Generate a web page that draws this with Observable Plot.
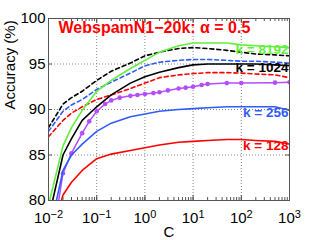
<!DOCTYPE html>
<html><head><meta charset="utf-8">
<script src="https://cdn.jsdelivr.net/npm/d3@7"></script>
<script src="https://cdn.jsdelivr.net/npm/@observablehq/plot@0.6"></script>
<style>body{margin:0;background:#fff}</style>
</head><body><div id="chart"></div>
<script>
// C values for the plain curves
const C = [0.01, 0.02, 0.03, 0.05, 0.1, 0.2, 0.5, 1, 2, 5, 10, 20, 50, 100, 200, 500, 1000];
// solid curves
const solid128  = [75.0, 80.6, 82.0, 83.3, 84.6, 85.1, 85.5, 85.8, 86.1, 86.4, 86.5, 86.6, 86.7, 86.7, 86.6, 86.5, 86.2];
const solid256  = [76.0, 83.3, 85.0, 86.2, 87.6, 88.5, 89.2, 89.5, 89.8, 90.0, 90.1, 90.2, 90.3, 90.3, 90.3, 90.3, 89.9];
const solid1024 = [78.0, 85.0, 86.8, 88.8, 90.3, 91.6, 92.9, 93.6, 94.1, 94.6, 94.9, 95.0, 95.0, 95.0, 95.0, 94.9, 94.8];
const solid8192 = [79.5, 86.0, 88.0, 89.9, 92.0, 93.2, 94.5, 95.4, 96.3, 97.0, 97.3, 97.3, 97.3, 97.1, 97.0, 96.9, 96.8];
// dashed curves
const dashed128  = [87.0, 88.8, 89.6, 90.3, 91.1, 91.6, 92.3, 92.9, 93.5, 93.8, 93.95, 94.05, 94.05, 94.0, 93.9, 93.8, 93.5];
const dashed256  = [87.6, 89.8, 90.5, 91.1, 92.2, 93.0, 94.0, 94.8, 95.2, 95.4, 95.5, 95.5, 95.4, 95.3, 95.3, 95.2, 95.1];
const dashed1024 = [88.0, 90.6, 91.3, 92.0, 93.2, 94.2, 95.1, 95.9, 96.3, 96.7, 96.8, 96.7, 96.5, 96.3, 96.1, 96.0, 95.9];
// purple curve with markers
const Cp = [0.01, 0.015, 0.02, 0.03, 0.05, 0.07, 0.1, 0.15, 0.2, 0.3, 0.5, 0.7, 1, 1.5, 2, 3, 5, 7, 10, 15, 20, 50, 100, 500, 1000];
const purple = [74.0, 78.8, 83.0, 85.2, 87.4, 88.7, 89.8, 90.6, 91.0, 91.3, 91.5, 91.6, 91.7, 91.8, 91.9, 92.1, 92.3, 92.4, 92.5, 92.7, 92.8, 92.9, 92.9, 92.95, 93.0];

const xTicks = [0.01, 0.1, 1, 10, 100, 1000];
const yTicks = [80, 85, 90, 95, 100];
const title = "WebspamN1\u221220k: \u03b1 = 0.5";
const xLabel = "C";
const yLabel = "Accuracy (%)";

const series = [
  {label: "k = 128",  values: dashed128,  color: "#ff0000", dash: "4,3", showLabel: false},
  {label: "k = 256",  values: dashed256,  color: "#2f5bff", dash: "4,3", showLabel: false},
  {label: "k = 1024", values: dashed1024, color: "#000000", dash: "4,3", showLabel: false},
  {label: "k = 128",  values: solid128,   color: "#ff0000", dash: null, showLabel: true},
  {label: "k = 256",  values: solid256,   color: "#2f5bff", dash: null, showLabel: true},
  {label: "k = 1024", values: solid1024,  color: "#000000", dash: null, showLabel: true},
  {label: "k = 8192", values: solid8192,  color: "#5ff03a", dash: null, showLabel: true}
];

const W = 319, H = 240, mL = 48, mR = 30, mT = 18, mB = 40;
const innerW = W - mL - mR, innerH = H - mT - mB;
const minorX = d3.scaleLog().domain([0.01, 1000]).ticks();

const marks = [
  Plot.gridX({ticks: xTicks.slice(1, -1), stroke: "#888", strokeOpacity: 1, strokeDasharray: "1,2"}),
  Plot.gridY({ticks: yTicks.slice(1, -1), stroke: "#888", strokeOpacity: 1, strokeDasharray: "1,2"}),
];
const purpleRows = Cp.map((c, i) => ({C: c, acc: purple[i]}));
marks.push(Plot.line(purpleRows, {x: "C", y: "acc", stroke: "#b34dff", strokeWidth: 1.5, clip: true}));
marks.push(Plot.dot(purpleRows, {x: "C", y: "acc", fill: "#b34dff", r: 2.3, clip: true}));
for (const s of series) {
  const rows = C.map((c, i) => ({C: c, acc: s.values[i]}));
  marks.push(Plot.line(rows, {x: "C", y: "acc", stroke: s.color, strokeWidth: 1.6, strokeDasharray: s.dash, clip: true}));
  if (s.showLabel) {
    marks.push(Plot.text(rows, Plot.selectLast({x: "C", y: "acc", text: () => s.label, fill: s.color,
      textAnchor: "end", dx: -1, dy: 2, fontWeight: "bold", fontSize: 13.5})));
  }
}
marks.push(Plot.text([title], {frameAnchor: "top-left", dx: 10, dy: 3, lineAnchor: "top", textAnchor: "start",
  fill: "#ff0000", fontWeight: "bold", fontSize: 16}));
marks.push(Plot.frame({stroke: "#555"}));
// inward ticks
marks.push(Plot.tickX(minorX, {x: d => d, insetTop: innerH - 3, stroke: "#555"}));
marks.push(Plot.tickX(minorX, {x: d => d, insetBottom: innerH - 3, stroke: "#555"}));
marks.push(Plot.tickX(xTicks, {x: d => d, insetTop: innerH - 5, stroke: "#555"}));
marks.push(Plot.tickX(xTicks, {x: d => d, insetBottom: innerH - 5, stroke: "#555"}));
marks.push(Plot.tickY(yTicks, {y: d => d, insetRight: innerW - 4, stroke: "#555"}));
marks.push(Plot.tickY(yTicks, {y: d => d, insetLeft: innerW - 4, stroke: "#555"}));
marks.push(Plot.axisX({ticks: xTicks, tickSize: 0, tickPadding: 12, tickFormat: d => String(Math.round(Math.log10(d))),
  label: null, fontSize: 15}));
marks.push(Plot.axisY({ticks: yTicks, tickSize: 0, tickPadding: 3, tickFormat: d => String(d),
  label: null, fontSize: 15}));
marks.push(Plot.text([xLabel], {frameAnchor: "bottom", dy: 32, lineAnchor: "middle", fontSize: 15, fill: "black"}));
marks.push(Plot.text([yLabel], {frameAnchor: "left", dx: -38, rotate: -90, lineAnchor: "middle", fontSize: 15, fill: "black"}));

const svg = Plot.plot({
  width: W, height: H, marginLeft: mL, marginRight: mR, marginTop: mT, marginBottom: mB,
  style: {fontFamily: "'Liberation Sans', Arial, sans-serif", fontSize: "15px", background: "white", color: "black"},
  x: {type: "log", domain: [0.01, 1000]},
  y: {domain: [80, 100]},
  marks
});
svg.querySelectorAll('g[aria-label="x-axis tick label"] text').forEach(t => {
  const e = t.textContent.replace("-", "\u2212");
  t.textContent = "10";
  const ts = document.createElementNS("http://www.w3.org/2000/svg", "tspan");
  ts.setAttribute("dy", "-0.45em");
  ts.setAttribute("font-size", "11");
  ts.textContent = e;
  t.appendChild(ts);
});
document.getElementById("chart").appendChild(svg);
</script>
</body></html>
